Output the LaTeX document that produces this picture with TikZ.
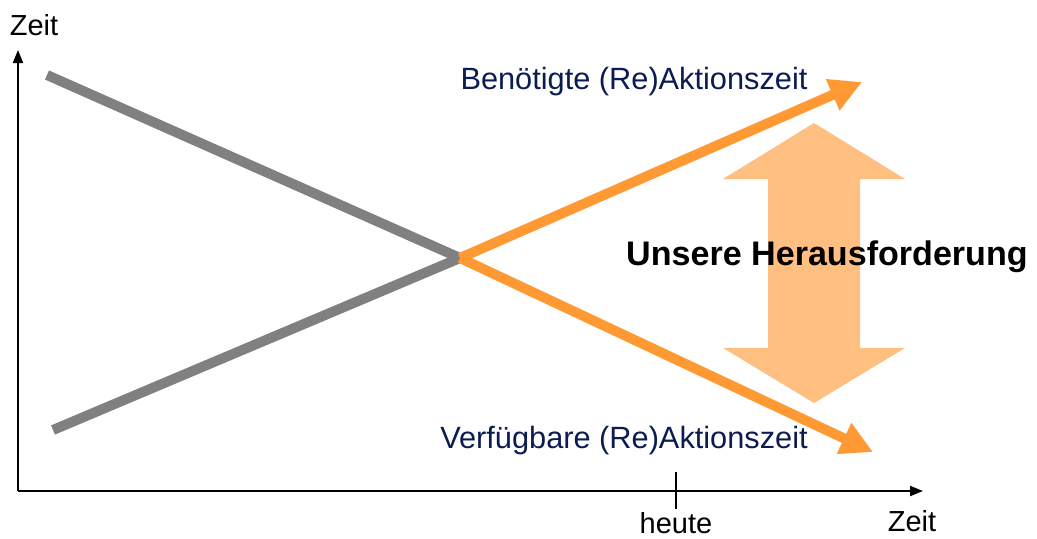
\documentclass[tikz,border=0pt]{standalone}
\usepackage{fontspec}
\setmainfont{Liberation Sans}
\usepackage{tikz}
\usetikzlibrary{arrows.meta,positioning,calc}
\definecolor{navy}{RGB}{12,28,82}
\definecolor{orangeline}{RGB}{255,153,51}
\definecolor{orangelight}{RGB}{255,191,128}
\definecolor{greyline}{RGB}{128,128,128}
\tikzstyle{axis} = [line width=0.04cm,-{Triangle[length=0.26cm,width=0.2cm]}]
\tikzstyle{trend} = [line width=0.2cm,greyline]
\tikzstyle{gap} = [line width=0.2cm,orangeline,-{Triangle[length=0.64cm,width=0.64cm]}]
\tikzstyle{lbl} = [inner sep=0pt,font=\fontsize{16.5}{19}\selectfont]
\tikzstyle{reaction} = [lbl,navy,font=\fontsize{17.5}{20}\selectfont]
\tikzset{>=latex}

\begin{document}
\begin{tikzpicture}[x=0.02cm,y=-0.02cm]
    \useasboundingbox (0,0) rectangle (1037,538);

    \coordinate (O) at (18,491);
    \coordinate (ytip) at (18,50);
    \coordinate (xtip) at (923,491);
    \draw [axis] (O) -- (ytip);
    \draw [axis] (O) -- (xtip);
    \node [lbl] (ylabel) at (34,25) {Zeit};
    \node [lbl] (xlabel) at (912,521) {Zeit};

    \coordinate (now top) at (676,472);
    \coordinate (now bot) at (676,509);
    \draw [line width=0.026cm] (now top) -- (now bot);
    \node [lbl] (heute) at (676,523) {heute};

    % big double arrow
    \fill [orangelight] (814,123) -- (905,179) -- (860,179) -- (860,348) -- (905,348)
        -- (814,403) -- (723,348) -- (768,348) -- (768,179) -- (723,179) -- cycle;

    \coordinate (gtop) at (47,75);
    \coordinate (gbot) at (53,430);
    \coordinate (cross) at (460,258);
    \coordinate (btip) at (862,82);
    \coordinate (vtip) at (873,452);
    \draw [trend] (gtop) -- (cross);
    \draw [trend] (gbot) -- (cross);
    \draw [gap] (cross) -- (btip);
    \draw [gap] (cross) -- (vtip);

    \node [reaction] (needed) at (634,82) {Benötigte (Re)Aktionszeit};
    \node [reaction] (avail) at (624,441) {Verfügbare (Re)Aktionszeit};
    \node [inner sep=0pt,font=\fontsize{19.4}{22}\selectfont\bfseries] (challenge) at (827,257) {Unsere Herausforderung};
\end{tikzpicture}
\end{document}
